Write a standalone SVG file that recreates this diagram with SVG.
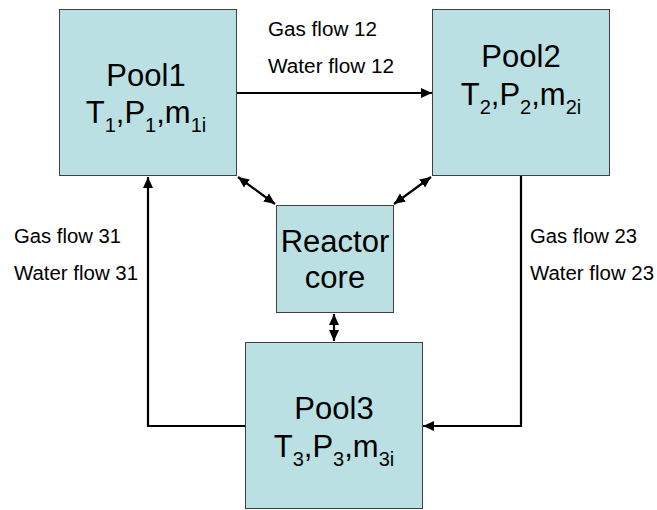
<svg xmlns="http://www.w3.org/2000/svg" width="657" height="510" viewBox="0 0 657 510">
<style>
.box{fill:#BBE0E3;stroke:#404040;stroke-width:1}
.big{font-family:"Liberation Sans",Arial,sans-serif;font-size:31px;fill:#000;text-anchor:middle}
.lbl{font-family:"Liberation Sans",Arial,sans-serif;font-size:20px;fill:#000}
.ln{fill:none;stroke:#000;stroke-width:2.2}
</style>
<defs>
<marker id="ah" markerUnits="userSpaceOnUse" markerWidth="12" markerHeight="12" viewBox="0 0 12 12" refX="11" refY="6" orient="auto-start-reverse">
<path d="M0,1 L11,6 L0,11 z" fill="#000"/>
</marker>
</defs>
<rect width="657" height="510" fill="#fff"/>
<g id="pool1">
<rect class="box" x="59.5" y="9.5" width="177" height="166"/>
<text class="big" x="146" y="86">Pool1</text>
<text class="big" x="146" y="123">T<tspan font-size="20" dy="9">1</tspan><tspan dy="-9">,P</tspan><tspan font-size="20" dy="9">1</tspan><tspan dy="-9">,m</tspan><tspan font-size="20" dy="9">1i</tspan></text>
</g>
<g id="pool2">
<rect class="box" x="432.5" y="9.5" width="177" height="166"/>
<text class="big" x="521" y="67">Pool2</text>
<text class="big" x="521" y="105">T<tspan font-size="20" dy="9">2</tspan><tspan dy="-9">,P</tspan><tspan font-size="20" dy="9">2</tspan><tspan dy="-9">,m</tspan><tspan font-size="20" dy="9">2i</tspan></text>
</g>
<g id="reactor">
<rect class="box" x="276.5" y="205.5" width="117" height="107"/>
<text class="big" x="335" y="252">Reactor</text>
<text class="big" x="335" y="288">core</text>
</g>
<g id="pool3">
<rect class="box" x="245.5" y="342.5" width="177" height="166"/>
<text class="big" x="334" y="419">Pool3</text>
<text class="big" x="334" y="457">T<tspan font-size="20" dy="9">3</tspan><tspan dy="-9">,P</tspan><tspan font-size="20" dy="9">3</tspan><tspan dy="-9">,m</tspan><tspan font-size="20" dy="9">3i</tspan></text>
</g>
<g id="connectors">
<path class="ln" d="M237,93 H432" marker-end="url(#ah)"/>
<path class="ln" d="M238,177 L275,204" marker-start="url(#ah)" marker-end="url(#ah)"/>
<path class="ln" d="M431,177 L394,204" marker-start="url(#ah)" marker-end="url(#ah)"/>
<path class="ln" d="M334,314 V341" marker-start="url(#ah)" marker-end="url(#ah)"/>
<path class="ln" d="M245,426 H148 V177" marker-end="url(#ah)"/>
<path class="ln" d="M521,176 V426 H423" marker-end="url(#ah)"/>
</g>
<g id="labels">
<text class="lbl" x="268" y="36" textLength="109" lengthAdjust="spacingAndGlyphs">Gas flow 12</text>
<text class="lbl" x="268" y="73" textLength="126" lengthAdjust="spacingAndGlyphs">Water flow 12</text>
<text class="lbl" x="14" y="243" textLength="107" lengthAdjust="spacingAndGlyphs">Gas flow 31</text>
<text class="lbl" x="14" y="280" textLength="124" lengthAdjust="spacingAndGlyphs">Water flow 31</text>
<text class="lbl" x="530" y="243" textLength="107" lengthAdjust="spacingAndGlyphs">Gas flow 23</text>
<text class="lbl" x="530" y="280" textLength="124" lengthAdjust="spacingAndGlyphs">Water flow 23</text>
</g>
</svg>
